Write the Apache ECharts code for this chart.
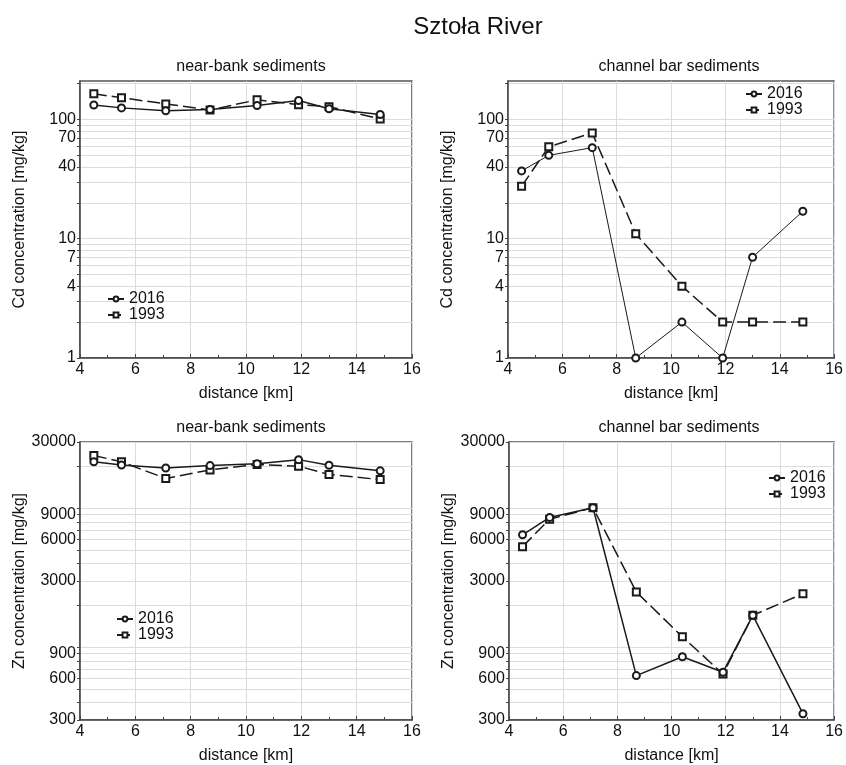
<!DOCTYPE html>
<html>
<head>
<meta charset="utf-8">
<script src="https://cdn.jsdelivr.net/npm/echarts@6/dist/echarts.min.js"></script>
<style>
html,body{margin:0;padding:0;background:#fff;}
#chart{width:846px;height:765px;}
</style>
</head>
<body>
<div id="chart"></div>
<script>
// ---- data ----
const distance = [4.5, 5.5, 7.1, 8.7, 10.4, 11.9, 13.0, 14.85];
const cdNear2016 = [132, 125, 118, 121, 131, 144, 123, 110];
const cdNear1993 = [164, 152, 135, 120, 146, 133, 128, 101];
const cdBar2016 = [37, 50, 58, 1, 2, 1, 7, 17];
const cdBar1993 = [27.5, 59, 77, 11, 4, 2, 2, 2];
const znNear2016 = [21600, 20500, 19500, 20300, 20900, 22400, 20400, 18600];
const znNear1993 = [24000, 21600, 16400, 18900, 20700, 20100, 17500, 16100];
const znBar2016 = [6450, 8600, 10100, 626, 856, 662, 1700, 333];
const znBar1993 = [5300, 8350, 10100, 2500, 1190, 643, 1700, 2430];

const cdLabels = [1, 4, 7, 10, 40, 70, 100];
const cdGrid = [1,2,3,4,5,6,7,8,9,10,20,30,40,50,60,70,80,90,100,200];
const znLabels = [300, 600, 900, 3000, 6000, 9000, 30000];
const znGrid = [300,400,500,600,700,800,900,1000,2000,3000,4000,5000,6000,7000,8000,9000,10000,20000,30000];
const seriesNames = ['2016', '1993'];

const FONT = 'Liberation Sans, Arial, sans-serif';
const INK = '#111';

const chart = echarts.init(document.getElementById('chart'), null, {renderer: 'canvas'});

const grids = [
  {left: 80, top: 81, width: 332, height: 277},
  {left: 508, top: 81, width: 332, height: 277},
  {left: 80, top: 442, width: 332, height: 280},
  {left: 509, top: 442, width: 332, height: 280}
];

function pair(a, b) { return a.map((v, i) => [v, b[i]]); }

const panels = [
  {yMin: 1, yMax: 210, labels: cdLabels, gridVals: cdGrid, name: 'Cd concentration [mg/kg]', s2016: cdNear2016, s1993: cdNear1993, w2016: 1.5},
  {yMin: 1, yMax: 210, labels: cdLabels, gridVals: cdGrid, name: 'Cd concentration [mg/kg]', s2016: cdBar2016, s1993: cdBar1993, w2016: 1},
  {yMin: 300, yMax: 30000, labels: znLabels, gridVals: znGrid, name: 'Zn concentration [mg/kg]', s2016: znNear2016, s1993: znNear1993, w2016: 1.5},
  {yMin: 300, yMax: 30000, labels: znLabels, gridVals: znGrid, name: 'Zn concentration [mg/kg]', s2016: znBar2016, s1993: znBar1993, w2016: 1.5}
];

const xAxes = [], yAxes = [], series = [];
panels.forEach((p, i) => {
  xAxes.push({
    type: 'value', gridIndex: i, min: 4, max: 16, interval: 2,
    name: 'distance [km]', nameLocation: 'middle', nameGap: 28,
    nameTextStyle: {fontFamily: FONT, fontSize: 16, color: INK},
    axisLine: {show: true, lineStyle: {color: '#444', width: 1.5}},
    axisTick: {show: true, inside: true, length: 4, lineStyle: {color: '#444'}},
    minorTick: {show: true, splitNumber: 2, length: 3, lineStyle: {color: '#444'}},
    axisLabel: {fontFamily: FONT, fontSize: 16, color: INK, margin: 4},
    splitLine: {show: true, lineStyle: {color: '#dcdcdc', width: 1}}
  });
  yAxes.push({
    type: 'log', logBase: 10, gridIndex: i, min: p.yMin, max: p.yMax,
    name: p.name, nameLocation: 'middle', nameGap: 52, nameRotate: 90,
    nameTextStyle: {fontFamily: FONT, fontSize: 16, color: INK},
    axisLine: {show: true, lineStyle: {color: '#444', width: 1.5}},
    axisTick: {show: true, inside: false, length: 3, customValues: p.gridVals, lineStyle: {color: '#444'}},
    axisLabel: {fontFamily: FONT, fontSize: 16, color: INK, margin: 4, customValues: p.labels,
      formatter: v => String(Math.round(v))},
    splitLine: {show: true, lineStyle: {color: '#dcdcdc', width: 1}}
  });
  series.push({
    name: '2016', type: 'line', xAxisIndex: i, yAxisIndex: i,
    data: pair(distance, p.s2016),
    symbol: 'emptyCircle', symbolSize: 7,
    lineStyle: {color: '#1a1a1a', width: p.w2016, type: 'solid'},
    itemStyle: {color: '#1a1a1a', borderWidth: 1},
    emphasis: {disabled: true}, animation: false, z: 3
  });
  series.push({
    name: '1993', type: 'line', xAxisIndex: i, yAxisIndex: i,
    data: pair(distance, p.s1993),
    symbol: 'emptyRect', symbolSize: 7,
    lineStyle: {color: '#1a1a1a', width: 1.5, type: [13, 5]},
    itemStyle: {color: '#1a1a1a', borderWidth: 1},
    emphasis: {disabled: true}, animation: false, z: 2
  });
});

function legendAt(left, top) {
  return {
    data: seriesNames, orient: 'vertical', left: left, top: top,
    itemWidth: 16, itemHeight: 6, itemGap: 0, selectedMode: false,
    textStyle: {fontFamily: FONT, fontSize: 16, color: INK, lineHeight: 15},
    padding: 0
  };
}

const titleStyle = {fontFamily: FONT, fontSize: 16, fontWeight: 'normal', color: INK};

const option = {
  backgroundColor: '#fff',
  animation: false,
  title: [
    {text: 'Sztoła River', left: 473, top: 10, textAlign: 'center', textStyle: {fontFamily: FONT, fontSize: 24, fontWeight: 'normal', color: INK}},
    {text: 'near-bank sediments', left: 246, top: 54, textAlign: 'center', textStyle: titleStyle},
    {text: 'channel bar sediments', left: 674, top: 54, textAlign: 'center', textStyle: titleStyle},
    {text: 'near-bank sediments', left: 246, top: 415, textAlign: 'center', textStyle: titleStyle},
    {text: 'channel bar sediments', left: 674, top: 415, textAlign: 'center', textStyle: titleStyle}
  ],
  legend: [
    legendAt(107, 291),
    legendAt(745, 86),
    legendAt(116, 611),
    legendAt(768, 470)
  ],
  grid: grids.map(g => Object.assign({show: true, borderColor: '#555', borderWidth: 1.5, backgroundColor: 'transparent', containLabel: false}, g)),
  xAxis: xAxes,
  yAxis: yAxes,
  series: series
};
chart.setOption(option);
</script>
</body>
</html>
